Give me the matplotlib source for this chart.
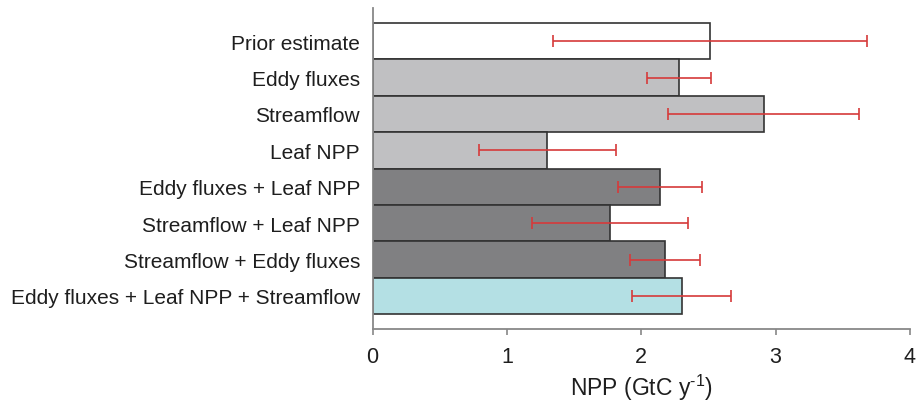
import matplotlib
matplotlib.use('Agg')
import matplotlib.pyplot as plt

plt.rcParams['font.family'] = ['Liberation Sans', 'DejaVu Sans']
plt.rcParams['mathtext.fontset'] = 'custom'
plt.rcParams['mathtext.rm'] = 'Liberation Sans'
plt.rcParams['mathtext.it'] = 'Liberation Sans:italic'

# NPP estimates from each data constraint (GtC per year)
labels = ['Prior estimate', 'Eddy fluxes', 'Streamflow', 'Leaf NPP',
          'Eddy fluxes + Leaf NPP', 'Streamflow + Leaf NPP',
          'Streamflow + Eddy fluxes', 'Eddy fluxes + Leaf NPP + Streamflow']
npp = [2.51, 2.28, 2.91, 1.30, 2.14, 1.77, 2.18, 2.30]
npp_err = [1.17, 0.24, 0.71, 0.51, 0.31, 0.58, 0.26, 0.37]
bar_colors = ['#ffffff', '#c0c0c2', '#c0c0c2', '#c0c0c2',
              '#808082', '#808082', '#808082', '#b4e0e4']
x_ticks = [0, 1, 2, 3, 4]

fig = plt.figure(figsize=(9.16, 4.10), dpi=100)
ax = fig.add_axes([0.4067, 0.195, 0.9934 - 0.4067, 0.978 - 0.195])

ypos = list(range(len(labels)))
ax.barh(ypos, npp, height=1.0, color=bar_colors, edgecolor='#333333',
        linewidth=1.2, zorder=2)
ax.errorbar(npp, ypos, xerr=npp_err, fmt='none', ecolor='#d63a3a',
            elinewidth=1.2, capsize=4.3, capthick=1.2, zorder=3)

ax.set_xlim(0, 4)
ax.set_ylim(7.5 + 0.41, -0.5 - 0.41)
ax.set_xticks(x_ticks)
ax.set_xticklabels([str(t) for t in x_ticks])
ax.set_yticks(ypos)
ax.set_yticklabels(labels)

for side in ['top', 'right']:
    ax.spines[side].set_visible(False)
for side in ['left', 'bottom']:
    ax.spines[side].set_color('#888888')
    ax.spines[side].set_linewidth(1.3)

ax.tick_params(axis='y', length=0, pad=9, labelsize=15, labelcolor='#1e1e1e')
ax.tick_params(axis='x', length=4, width=1.2, color='#888888', pad=8,
               labelsize=15.5, labelcolor='#1e1e1e')

ax.set_xlabel(r'NPP (GtC y$^{\text{-1}}$)', fontsize=16.5, color='#1e1e1e',
              labelpad=4)

fig.savefig('out.png', dpi=100, facecolor='white')
